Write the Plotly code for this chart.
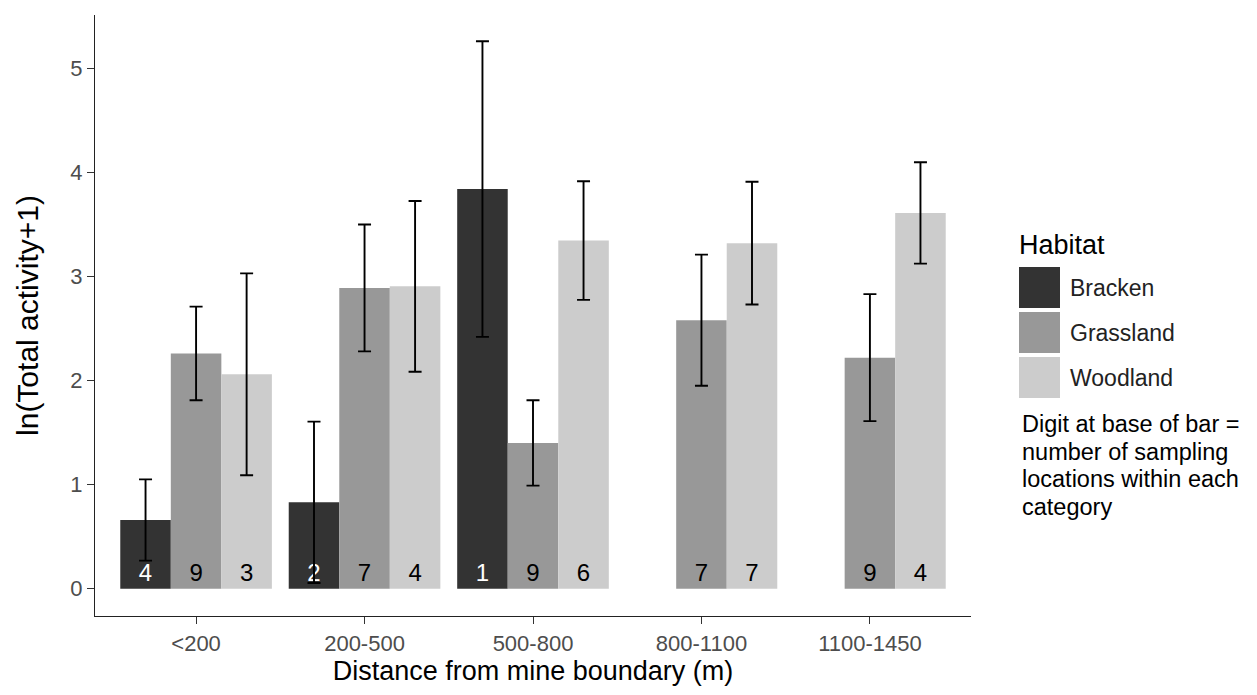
import plotly.graph_objects as go

# Distance bands from the mine boundary
categories = ["<200", "200-500", "500-800", "800-1100", "1100-1450"]

# Mean ln(total activity + 1) per habitat, with error half-widths
bracken_mean = [0.66, 0.83, 3.84, None, None]
bracken_err = [0.39, 0.775, 1.42, None, None]
grassland_mean = [2.26, 2.89, 1.40, 2.58, 2.22]
grassland_err = [0.45, 0.61, 0.41, 0.63, 0.61]
woodland_mean = [2.06, 2.905, 3.345, 3.32, 3.61]
woodland_err = [0.97, 0.82, 0.57, 0.59, 0.487]

# Number of sampling locations (printed at the base of each bar)
bracken_n = ["4", "2", "1", "", ""]
grassland_n = ["9", "7", "9", "7", "9"]
woodland_n = ["3", "4", "6", "7", "4"]

habitats = ["Bracken", "Grassland", "Woodland"]
fills = ["#333333", "#989898", "#CCCCCC"]
text_colors = ["white", "black", "black"]

FONT = "Liberation Sans, Arial, sans-serif"

# Plot-area geometry in pixels (used to place the hand-drawn legend)
W, H = 1257, 695
L, R, T, B = 95, 971, 15, 616


def px_x(px):
    return (px - L) / (R - L)


def px_y(py):
    return (B - py) / (B - T)


fig = go.Figure()
series = [
    (bracken_mean, bracken_err, bracken_n),
    (grassland_mean, grassland_err, grassland_n),
    (woodland_mean, woodland_err, woodland_n),
]
for name, fill, tcol, (mean, err, n) in zip(habitats, fills, text_colors, series):
    fig.add_trace(go.Bar(
        name=name,
        x=categories,
        y=mean,
        marker=dict(color=fill, line=dict(width=0)),
        error_y=dict(type="data", array=err, color="black", thickness=1.9, width=6.5),
        text=n,
        textposition="inside",
        insidetextanchor="start",
        textangle=0,
        constraintext="none",
        textfont=dict(family=FONT, size=24, color=tcol),
        showlegend=False,
        hoverinfo="skip",
    ))

shapes = []
annotations = []

# Legend: title, swatches and labels
annotations.append(dict(
    x=px_x(1017), y=px_y(245), xref="paper", yref="paper",
    text="Habitat", showarrow=False, xanchor="left", yanchor="middle",
    font=dict(family=FONT, size=27, color="black"),
))
key_tops = [267, 312, 357]
for name, fill, top in zip(habitats, fills, key_tops):
    shapes.append(dict(
        type="rect", xref="paper", yref="paper",
        x0=px_x(1019), x1=px_x(1060), y0=px_y(top + 41), y1=px_y(top),
        fillcolor=fill, line=dict(width=0),
    ))
    annotations.append(dict(
        x=px_x(1068), y=px_y(top + 21), xref="paper", yref="paper",
        text=name, showarrow=False, xanchor="left", yanchor="middle",
        font=dict(family=FONT, size=23, color="#222222"),
    ))

# Explanatory note under the legend
note_lines = [
    "Digit at base of bar =",
    "number of sampling",
    "locations within each",
    "category",
]
for i, line in enumerate(note_lines):
    annotations.append(dict(
        x=px_x(1020), y=px_y(424 + i * 27.6), xref="paper", yref="paper",
        text=line, showarrow=False, xanchor="left", yanchor="middle",
        font=dict(family=FONT, size=23.5, color="black"),
    ))

fig.update_layout(
    width=W, height=H,
    margin=dict(l=L, r=W - R, t=T, b=H - B, pad=0),
    paper_bgcolor="white", plot_bgcolor="white",
    barmode="group", bargap=0.1, bargroupgap=0,
    font=dict(family=FONT),
    shapes=shapes,
    annotations=annotations,
    showlegend=False,
)
fig.update_xaxes(
    type="category", range=[-0.6, 4.6],
    showline=True, linecolor="#222222", linewidth=1.3,
    ticks="outside", ticklen=7, tickwidth=1.2, tickcolor="#333333",
    tickfont=dict(family=FONT, size=22, color="#4D4D4D"),
    showgrid=False, zeroline=False, automargin=False,
    title=dict(text="Distance from mine boundary (m)",
               font=dict(family=FONT, size=27, color="black"), standoff=2),
)
fig.update_yaxes(
    range=[-0.2625, 5.5125], tickvals=[0, 1, 2, 3, 4, 5],
    showline=True, linecolor="#222222", linewidth=1.3,
    ticks="outside", ticklen=7, tickwidth=1.2, tickcolor="#333333",
    tickfont=dict(family=FONT, size=22, color="#4D4D4D"),
    showgrid=False, zeroline=False, automargin=False,
    title=dict(text="ln(Total activity+1)",
               font=dict(family=FONT, size=30, color="black"), standoff=22),
)

fig.write_html("out.html")
